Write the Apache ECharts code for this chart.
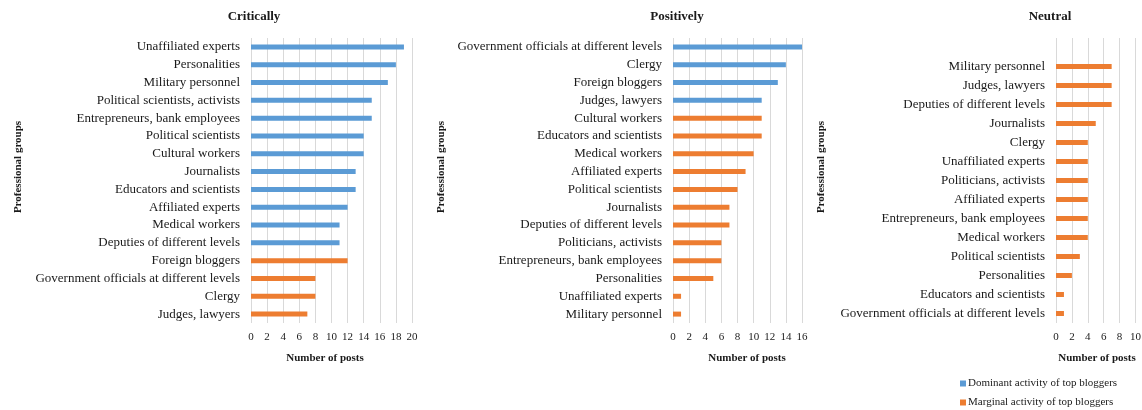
<!DOCTYPE html>
<html>
<head>
<meta charset="utf-8">
<script src="https://cdn.jsdelivr.net/npm/echarts@6/dist/echarts.min.js"></script>
<style>
html,body{margin:0;padding:0;background:#fff;}
#chart{width:1142px;height:410px;}
</style>
</head>
<body>
<div id="chart"></div>
<script>
// ---- Data ----
var seriesNames = ['Dominant activity of top bloggers', 'Marginal activity of top bloggers'];

var criticalCategories = ['Unaffiliated experts', 'Personalities', 'Military personnel', 'Political scientists, activists',
  'Entrepreneurs, bank employees', 'Political scientists', 'Cultural workers', 'Journalists', 'Educators and scientists',
  'Affiliated experts', 'Medical workers', 'Deputies of different levels', 'Foreign bloggers',
  'Government officials at different levels', 'Clergy', 'Judges, lawyers'];
var criticalDominant = [19, 18, 17, 15, 15, 14, 14, 13, 13, 12, 11, 11, null, null, null, null];
var criticalMarginal = [null, null, null, null, null, null, null, null, null, null, null, null, 12, 8, 8, 7];

var positiveCategories = ['Government officials at different levels', 'Clergy', 'Foreign bloggers', 'Judges, lawyers',
  'Cultural workers', 'Educators and scientists', 'Medical workers', 'Affiliated experts', 'Political scientists',
  'Journalists', 'Deputies of different levels', 'Politicians, activists', 'Entrepreneurs, bank employees',
  'Personalities', 'Unaffiliated experts', 'Military personnel'];
var positiveDominant = [16, 14, 13, 11, null, null, null, null, null, null, null, null, null, null, null, null];
var positiveMarginal = [null, null, null, null, 11, 11, 10, 9, 8, 7, 7, 6, 6, 5, 1, 1];

var neutralCategories = ['Military personnel', 'Judges, lawyers', 'Deputies of different levels', 'Journalists', 'Clergy',
  'Unaffiliated experts', 'Politicians, activists', 'Affiliated experts', 'Entrepreneurs, bank employees',
  'Medical workers', 'Political scientists', 'Personalities', 'Educators and scientists',
  'Government officials at different levels'];
var neutralDominant = [null, null, null, null, null, null, null, null, null, null, null, null, null, null];
var neutralMarginal = [7, 7, 7, 5, 4, 4, 4, 4, 4, 4, 3, 2, 1, 1];

var panelTitles = ['Critically', 'Positively', 'Neutral'];
var xAxisMax = [20, 16, 10];
var axisTitleX = 'Number of posts';
var axisTitleY = 'Professional groups';

// ---- Layout / style ----
var FONT = "'Liberation Serif', 'Times New Roman', serif";
var TXT = '#1a1a1a';
var BLUE = '#5B9BD5', ORANGE = '#ED7D31';
var grids = [
  {left: 251, right: 1142 - 412, top: 38, bottom: 410 - 323},
  {left: 673, right: 1142 - 802, top: 38, bottom: 410 - 323},
  {left: 1056, right: 1142 - 1135.5, top: 38, bottom: 410 - 323}
];
var titlePos = [254, 677, 1050];
var xNamePos = [325, 747, 1097];
var yNamePos = [18, 441, 821];

// neutral panel has an empty slot at the top of its plot area
var panels = [
  {cats: criticalCategories, dom: criticalDominant, mar: criticalMarginal},
  {cats: positiveCategories, dom: positiveDominant, mar: positiveMarginal},
  {cats: [''].concat(neutralCategories), dom: [null].concat(neutralDominant), mar: [null].concat(neutralMarginal)}
];

var option = {
  backgroundColor: '#fff',
  animation: false,
  textStyle: {fontFamily: FONT},
  grid: grids.map(function (g) {
    return Object.assign({containLabel: false, outerBoundsMode: 'none'}, g);
  }),
  xAxis: panels.map(function (p, i) {
    return {
      type: 'value', gridIndex: i, min: 0, max: xAxisMax[i], interval: 2,
      axisLine: {show: false}, axisTick: {show: false},
      splitLine: {show: true, lineStyle: {color: '#d9d9d9', width: 1}},
      axisLabel: {fontFamily: FONT, fontSize: 11, color: TXT, margin: 9}
    };
  }),
  yAxis: panels.map(function (p, i) {
    return {
      type: 'category', gridIndex: i, inverse: true, data: p.cats,
      axisLine: {show: false}, axisTick: {show: false}, splitLine: {show: false},
      axisLabel: {fontFamily: FONT, fontSize: 13, color: TXT, margin: 11, interval: 0}
    };
  }),
  legend: {
    orient: 'vertical', left: 960, top: 377, height: 60, padding: 0,
    itemWidth: 6, itemHeight: 6, itemGap: 6,
    icon: 'rect', data: seriesNames,
    textStyle: {fontFamily: FONT, fontSize: 11, color: TXT, lineHeight: 13, padding: [0, 0, 0, -3]}
  },
  series: [],
  graphic: []
};

panels.forEach(function (p, i) {
  option.series.push({
    name: seriesNames[0], type: 'bar', xAxisIndex: i, yAxisIndex: i, data: p.dom,
    barWidth: 5, barGap: '-100%', itemStyle: {color: BLUE}, silent: true
  });
  option.series.push({
    name: seriesNames[1], type: 'bar', xAxisIndex: i, yAxisIndex: i, data: p.mar,
    barWidth: 5, barGap: '-100%', itemStyle: {color: ORANGE}, silent: true
  });
  option.graphic.push({
    type: 'text', x: titlePos[i], y: 17,
    style: {text: panelTitles[i], font: 'bold 13px ' + FONT, fill: TXT, align: 'center', verticalAlign: 'middle'}
  });
  option.graphic.push({
    type: 'text', x: xNamePos[i], y: 358,
    style: {text: axisTitleX, font: 'bold 11px ' + FONT, fill: TXT, align: 'center', verticalAlign: 'middle'}
  });
  option.graphic.push({
    type: 'text', x: yNamePos[i], y: 167, rotation: Math.PI / 2,
    style: {text: axisTitleY, font: 'bold 11px ' + FONT, fill: TXT, align: 'center', verticalAlign: 'middle'}
  });
});

var chart = echarts.init(document.getElementById('chart'), null, {renderer: 'canvas'});
chart.setOption(option);
</script>
</body>
</html>
